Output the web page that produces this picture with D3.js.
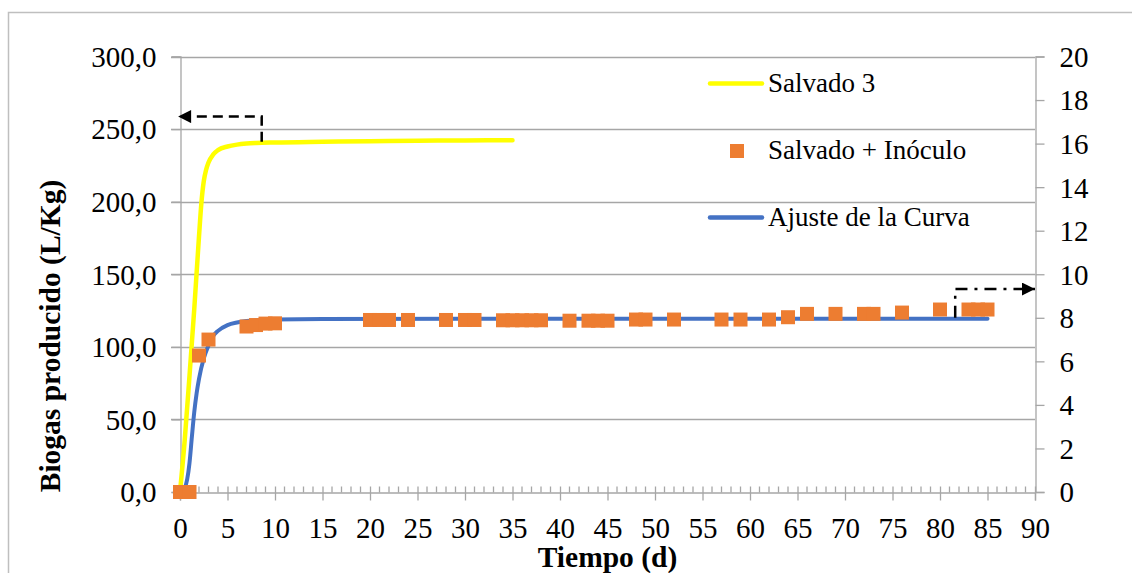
<!DOCTYPE html>
<html>
<head>
<meta charset="utf-8">
<script src="https://cdn.jsdelivr.net/npm/d3@7/dist/d3.min.js"></script>
<style>
  html, body { margin: 0; padding: 0; background: #fff; }
  svg { display: block; }
</style>
</head>
<body>
<svg id="chart" width="1132" height="573"></svg>
<script>
// ---- Data ----
const xTicks = [0,5,10,15,20,25,30,35,40,45,50,55,60,65,70,75,80,85,90];
const yLeftTicks = [0,50,100,150,200,250,300];
const yRightTicks = [0,2,4,6,8,10,12,14,16,18,20];

// Salvado 3 (yellow line)
const salvado3Days   = [0, 0.5, 1, 1.5, 2, 2.25, 2.5, 2.75, 3, 3.5, 4, 5, 6, 7, 8, 10, 15, 20, 25, 30, 35];
const salvado3Values = [0, 36, 80, 126, 176, 199, 214, 222, 227, 232.5, 235.5, 238, 239.3, 240, 240.4, 240.8, 241.3, 241.7, 242, 242.2, 242.3];

// Ajuste de la Curva (blue line)
const ajusteDays   = [0, 0.5, 1, 1.25, 1.5, 1.75, 2, 2.5, 3, 3.5, 4, 5, 6, 7, 8, 10, 15, 30, 50, 70, 85];
const ajusteValues = [0, 3, 20, 38, 55, 68, 78, 92, 101, 107.5, 111, 115, 116.8, 117.8, 118.4, 118.9, 119.2, 119.3, 119.3, 119.3, 119.3];

// Salvado + Inóculo (orange squares)
const inoculoDays   = [0, 1, 2, 3, 7, 8, 9, 10, 20, 21, 22, 24, 28, 30, 31, 34, 35, 36, 37, 38, 41, 43, 44, 45, 48, 49, 52, 57, 59, 62, 64, 66, 69, 72, 73, 76, 80, 83, 84, 85];
const inoculoValues = [0, 0, 94, 105, 114, 115, 116, 116.2, 118.5, 118.5, 118.5, 118.5, 118.5, 118.5, 118.5, 118.3, 118.3, 118.3, 118.3, 118.3, 118, 118, 118, 118, 118.8, 118.8, 118.8, 118.8, 118.8, 118.8, 120.4, 122.7, 122.7, 122.7, 122.7, 123.6, 125.7, 125.7, 125.7, 125.7];

// Annotation arrows (data units)
const leftArrowDays = [8.6, 8.6, -0.2];
const leftArrowVals = [241.3, 258.6, 258.6];     // left axis
const rightArrowDays = [81.6, 81.6, 90];
const rightArrowVals = [8.0, 9.32, 9.32];        // right axis

const legendLabels = ["Salvado 3", "Salvado + Inóculo", "Ajuste de la Curva"];
const colors = { yellow: "#FFFF00", orange: "#ED7D31", blue: "#4472C4" };

// ---- Setup ----
const FONT = "'Liberation Serif', 'Times New Roman', Times, serif";
const svg = d3.select("#chart");
const gridColor = "#a6a6a6";

const x = d3.scaleLinear().domain([0, 90]).range([180, 1035]);
const yL = d3.scaleLinear().domain([0, 300]).range([492, 56.5]);
const yR = d3.scaleLinear().domain([0, 20]).range([492, 56.5]);

// Outer border
svg.append("rect").attr("x", 8.5).attr("y", 12.5).attr("width", 1140).attr("height", 600)
  .attr("fill", "none").attr("stroke", "#bfbfbf").attr("stroke-width", 1.5);

// Gridlines (left axis)
svg.append("g").selectAll("line").data(yLeftTicks.filter(d => d > 0)).join("line")
  .attr("x1", 171).attr("x2", 1035)
  .attr("y1", d => Math.round(yL(d)) + 0.5).attr("y2", d => Math.round(yL(d)) + 0.5)
  .attr("stroke", gridColor).attr("stroke-width", 1.3);

// Left axis
const fmt = d => d3.format(".1f")(d).replace(".", ",");
const gL = svg.append("g").attr("transform", "translate(180.5,0)")
  .call(d3.axisLeft(yL).tickValues(yLeftTicks).tickFormat(fmt).tickSize(9).tickPadding(15));
gL.attr("font-family", null).attr("font-size", null);
gL.selectAll("text").style("font-family", FONT).style("font-size", "29px").attr("fill", "#000").attr("dy", "0.34em");
gL.selectAll("line, path").attr("stroke", gridColor).attr("stroke-width", 1.3);

// Right axis
const gR = svg.append("g").attr("transform", "translate(1035.5,0)")
  .call(d3.axisRight(yR).tickValues(yRightTicks).tickSize(9).tickPadding(15));
gR.attr("font-family", null).attr("font-size", null);
gR.selectAll("text").style("font-family", FONT).style("font-size", "29px").attr("fill", "#000").attr("dy", "0.34em");
gR.selectAll("line, path").attr("stroke", gridColor).attr("stroke-width", 1.3);

// X axis
const gX = svg.append("g").attr("transform", "translate(0,492.5)")
  .call(d3.axisBottom(x).tickValues(xTicks).tickSize(8));
gX.attr("font-family", null).attr("font-size", null);
gX.selectAll(".tick line").attr("y1", -6).attr("y2", 8);
gX.selectAll("text").style("font-family", FONT).style("font-size", "29px").attr("fill", "#000")
  .attr("y", 45).attr("dy", null);
gX.selectAll("line, path").attr("stroke", gridColor).attr("stroke-width", 1.3);
// minor ticks
svg.append("g").selectAll("line").data(d3.range(0, 91).filter(d => d % 5 !== 0)).join("line")
  .attr("x1", d => x(d)).attr("x2", d => x(d)).attr("y1", 486.5).attr("y2", 492.5)
  .attr("stroke", gridColor).attr("stroke-width", 1.3);

// Lines
const lineL = d3.line().x(d => x(d[0])).y(d => yL(d[1])).curve(d3.curveMonotoneX);

svg.append("path").datum(ajusteDays.map((d, i) => [d, ajusteValues[i]]))
  .attr("d", lineL).attr("fill", "none").attr("stroke", colors.blue)
  .attr("stroke-width", 4).attr("stroke-linecap", "round");

svg.append("path").datum(salvado3Days.map((d, i) => [d, salvado3Values[i]]))
  .attr("d", lineL).attr("fill", "none").attr("stroke", colors.yellow)
  .attr("stroke-width", 4.5).attr("stroke-linecap", "round");

// Squares
const sq = 14;
svg.append("g").selectAll("rect").data(inoculoDays.map((d, i) => [d, inoculoValues[i]])).join("rect")
  .attr("x", d => x(d[0]) - sq / 2).attr("y", d => yL(d[1]) - sq / 2)
  .attr("width", sq).attr("height", sq).attr("fill", colors.orange);

// Arrow markers
const defs = svg.append("defs");
defs.append("marker").attr("id", "arrow").attr("viewBox", "0 0 10 10")
  .attr("refX", 10).attr("refY", 5).attr("markerWidth", 15).attr("markerHeight", 13)
  .attr("markerUnits", "userSpaceOnUse").attr("orient", "auto")
  .append("path").attr("d", "M0,0 L10,5 L0,10 Z").attr("fill", "#000");

const straight = d3.line();
svg.append("path")
  .attr("d", straight(leftArrowDays.map((d, i) => [x(d), yL(leftArrowVals[i])])))
  .attr("fill", "none").attr("stroke", "#000").attr("stroke-width", 2.5)
  .attr("stroke-dasharray", "10,6").attr("marker-end", "url(#arrow)");

svg.append("path")
  .attr("d", straight(rightArrowDays.map((d, i) => [x(d), yR(rightArrowVals[i])])))
  .attr("fill", "none").attr("stroke", "#000").attr("stroke-width", 2.5)
  .attr("stroke-dasharray", "12,7,3,7").attr("marker-end", "url(#arrow)");

// Legend
const lg = svg.append("g");
lg.append("line").attr("x1", 710).attr("x2", 762).attr("y1", 83.5).attr("y2", 83.5)
  .attr("stroke", colors.yellow).attr("stroke-width", 4.5).attr("stroke-linecap", "round");
lg.append("rect").attr("x", 730).attr("y", 144).attr("width", sq).attr("height", sq).attr("fill", colors.orange);
lg.append("line").attr("x1", 710).attr("x2", 762).attr("y1", 217.5).attr("y2", 217.5)
  .attr("stroke", colors.blue).attr("stroke-width", 4.5).attr("stroke-linecap", "round");
[92, 159, 226].forEach((yy, i) => {
  lg.append("text").attr("x", 768).attr("y", yy)
    .style("font-family", FONT).style("font-size", "27px").attr("fill", "#000").text(legendLabels[i]);
});

// Axis titles
svg.append("text").attr("x", 607.5).attr("y", 567).attr("text-anchor", "middle")
  .style("font-family", FONT).style("font-size", "29.5px").style("font-weight", "bold").text("Tiempo (d)");
svg.append("text").attr("transform", "translate(60,336) rotate(-90)").attr("text-anchor", "middle")
  .style("font-family", FONT).style("font-size", "29.5px").style("font-weight", "bold").text("Biogas producido (L/Kg)");
</script>
</body>
</html>
